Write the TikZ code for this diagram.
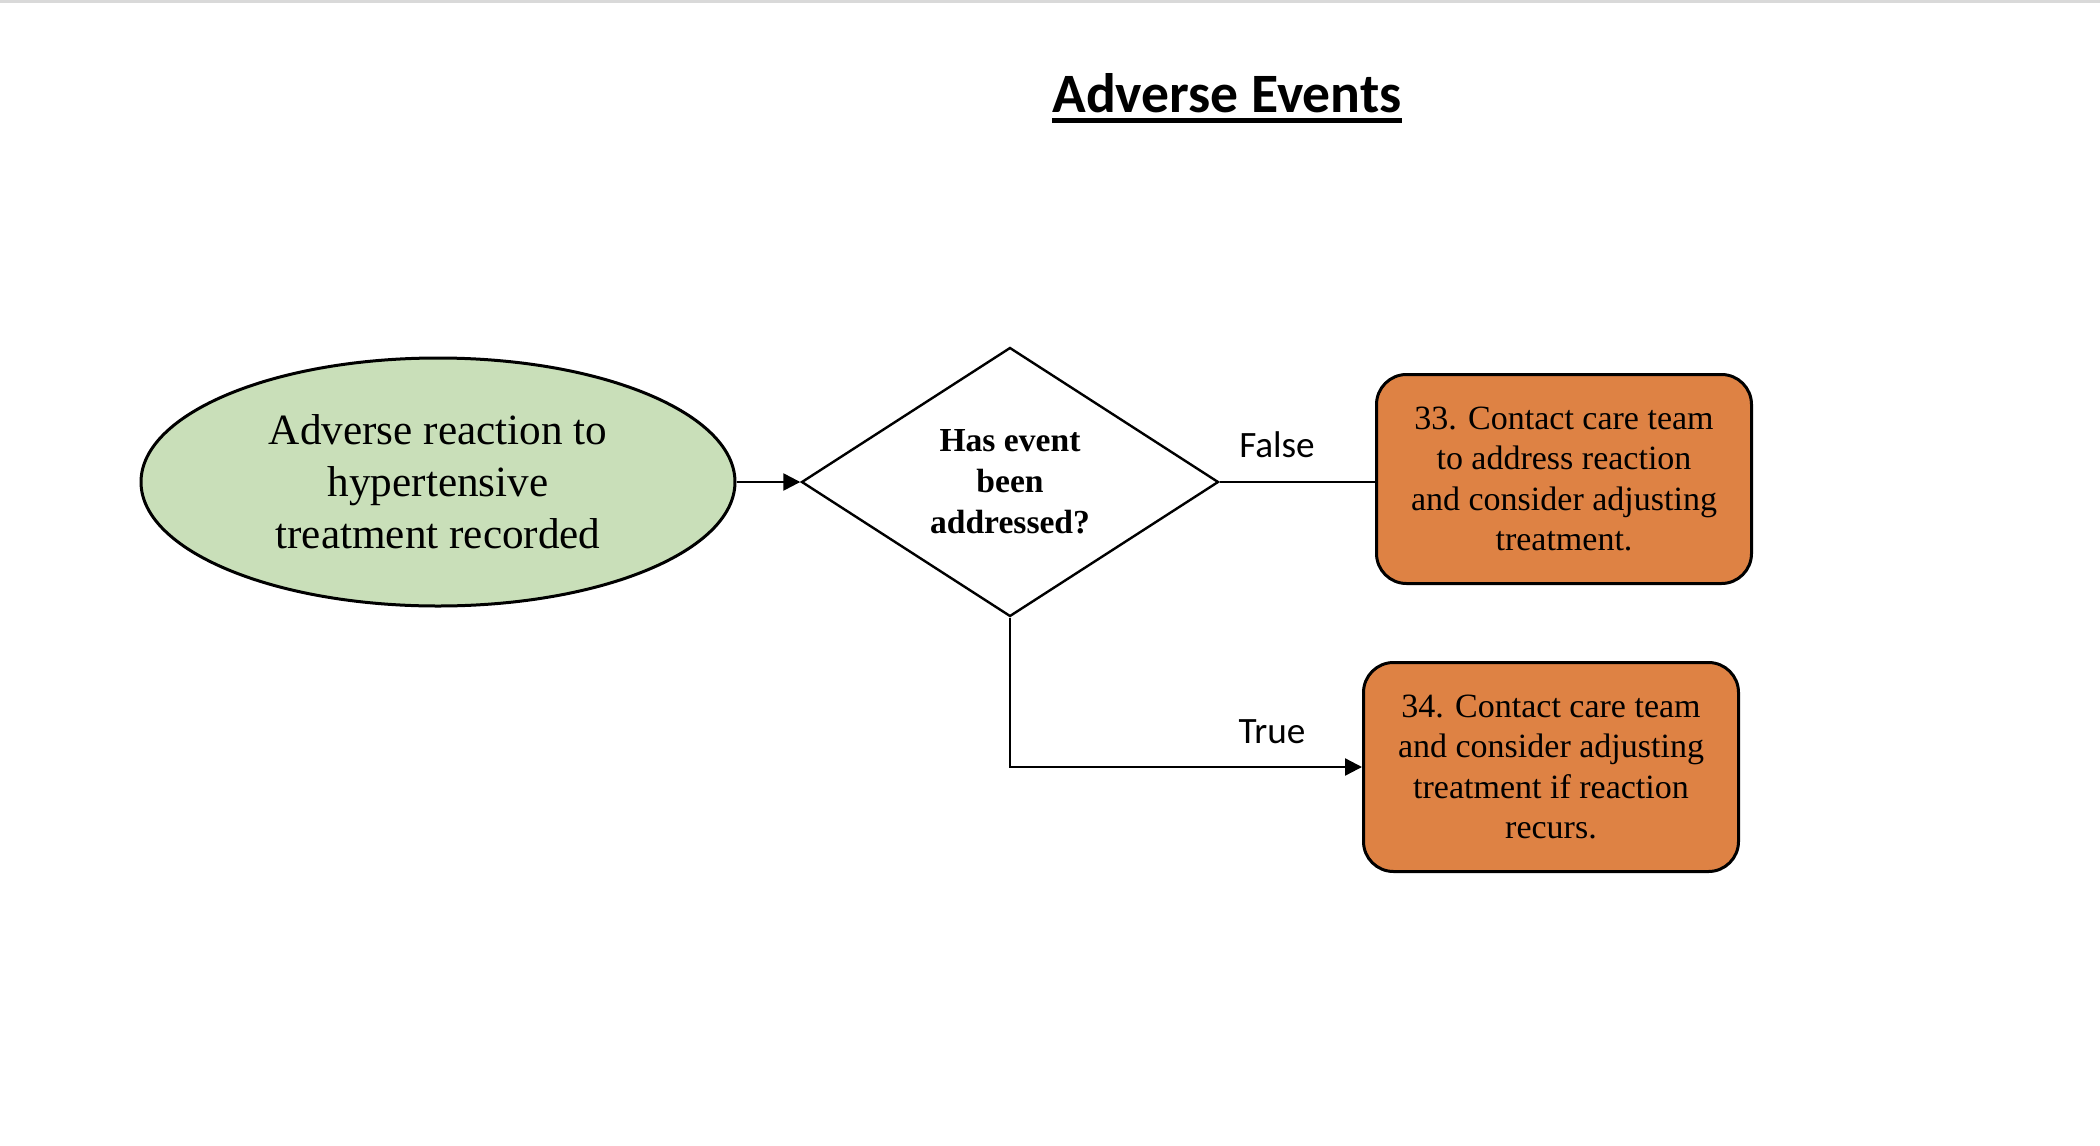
\documentclass[tikz,border=0pt]{standalone}
\usepackage{fontspec}
\setmainfont{Liberation Serif}
\newfontfamily\calibri{Carlito}
\usetikzlibrary{shapes.geometric,arrows.meta}
\definecolor{startgreen}{RGB}{201,223,185}
\definecolor{actorange}{RGB}{222,130,68}
\definecolor{topgrey}{RGB}{217,217,217}
\tikzset{
  startnode/.style={ellipse,draw=black,line width=1.5pt,fill=startgreen,minimum width=297pt,minimum height=124pt,inner sep=0pt,align=center,font=\fontsize{21.6pt}{26pt}\selectfont},
  decnode/.style={diamond,draw=black,line width=1.2pt,fill=white,minimum width=208.5pt,minimum height=134.5pt,aspect=1.55,inner sep=0pt,align=center,font=\fontsize{16.8pt}{20.5pt}\selectfont\bfseries},
  actnode/.style={rectangle,rounded corners=15pt,draw=black,line width=1.5pt,fill=actorange,minimum width=187.5pt,minimum height=104.5pt,inner sep=0pt,align=center,font=\fontsize{17pt}{20.2pt}\selectfont},
  conn/.style={draw=black,line width=1.2pt},
  arr/.style={conn,-{Triangle[length=8.5pt,width=8.5pt]}},
  lbl/.style={inner sep=0pt,anchor=base,font=\calibri\fontsize{18.6pt}{21pt}\selectfont},
}
\begin{document}
\begin{tikzpicture}[x=0.5pt,y=-0.5pt]
\useasboundingbox (0,0) rectangle (2100,1146);
\fill[white] (0,0) rectangle (2100,1146);
\draw[topgrey,line width=1.5pt] (0,1) -- (2100,1);
\node[inner sep=0pt,anchor=base,font=\calibri\fontsize{27.8pt}{30pt}\selectfont\bfseries] (title) at (1227,112) {Adverse Events};
\draw[line width=2.5pt] ([yshift=-4.3pt]title.base west) -- ([yshift=-4.3pt]title.base east);
\node[startnode] (start) at (438,482) {Adverse reaction to\\hypertensive\\treatment recorded};
\node[decnode] (dec) at (1010,482) {Has event\\been\\addressed?};
\node[actnode] (a33) at (1564,479) {33. Contact care team\\to address reaction\\and consider adjusting\\treatment.};
\node[actnode] (a34) at (1551,767) {34. Contact care team\\and consider adjusting\\treatment if reaction\\recurs.};
\draw[arr] (start.east) -- (dec.west);
\draw[conn] (dec.east) -- (dec.east -| a33.west);
\draw[arr] (dec.south) |- (a34.west);
\node[lbl] (lfalse) at (1277,457) {False};
\node[lbl] (ltrue) at (1272,743) {True};
\end{tikzpicture}
\end{document}
